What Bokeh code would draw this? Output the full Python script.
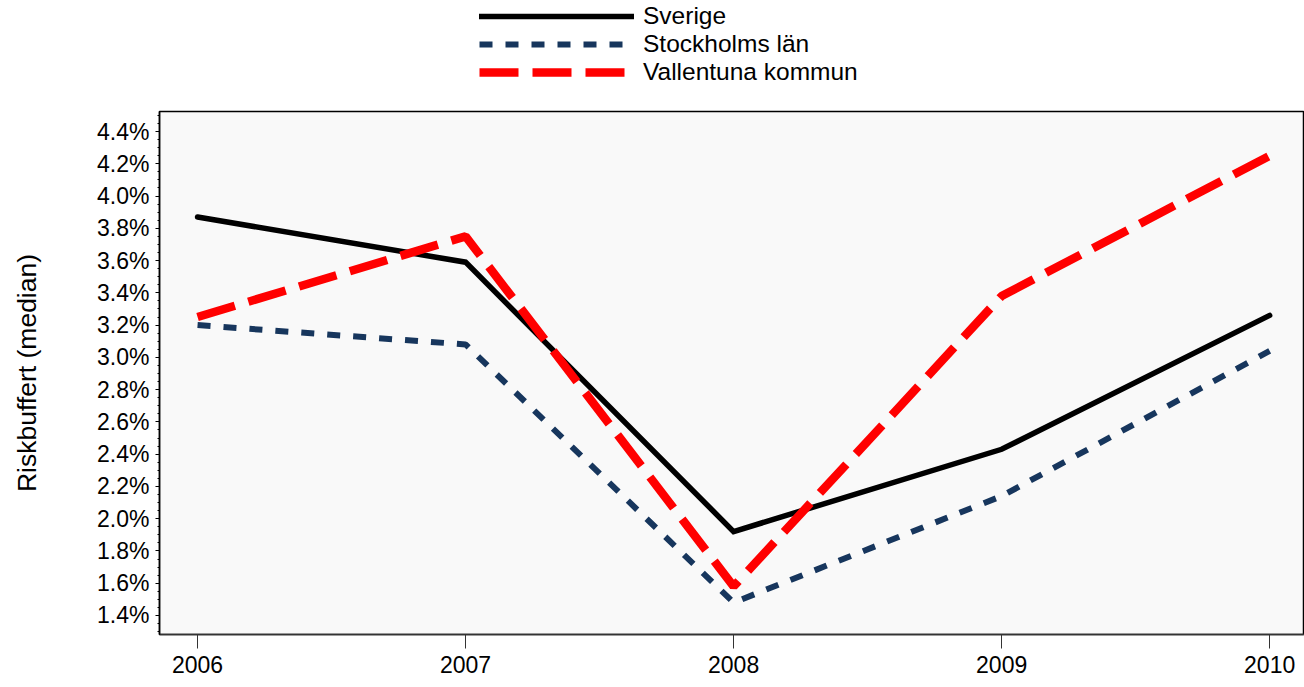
from bokeh.plotting import figure
from bokeh.layouts import column
from bokeh.models import (Range1d, FixedTicker, PrintfTickFormatter, Legend, LegendItem)
from bokeh.embed import file_html
from bokeh.resources import INLINE

years = [2006, 2007, 2008, 2009, 2010]
sverige = [3.87, 3.59, 1.92, 2.43, 3.26]
stockholm = [3.20, 3.08, 1.48, 2.14, 3.04]
vallentuna = [3.25, 3.75, 1.58, 3.38, 4.25]

series_names = ["Sverige", "Stockholms län", "Vallentuna kommun"]
y_ticks = [1.4, 1.6, 1.8, 2.0, 2.2, 2.4, 2.6, 2.8, 3.0, 3.2, 3.4, 3.6, 3.8, 4.0, 4.2, 4.4]
y_minor = [1.3, 1.35, 1.45, 1.5, 1.55, 1.65, 1.7, 1.75, 1.85, 1.9, 1.95, 2.05, 2.1, 2.15,
           2.25, 2.3, 2.35, 2.45, 2.5, 2.55, 2.65, 2.7, 2.75, 2.85, 2.9, 2.95, 3.05, 3.1,
           3.15, 3.25, 3.3, 3.35, 3.45, 3.5, 3.55, 3.65, 3.7, 3.75, 3.85, 3.9, 3.95, 4.05,
           4.1, 4.15, 4.25, 4.3, 4.35, 4.45, 4.5]
y_label = "Riskbuffert (median)"

FONT = "Liberation Sans"

styles = [dict(line_color="black", line_width=5.5, line_cap="round", line_join="miter"),
          dict(line_color="#17365d", line_width=6, line_dash="13 13"),
          dict(line_color="#ff0000", line_width=8.5, line_dash="39 14")]
series = [sverige, stockholm, vallentuna]

# ---------- main chart ----------
p = figure(width=1304, height=592, output_backend="svg", toolbar_location=None,
           x_range=Range1d(2005.858, 2010.13), y_range=Range1d(1.282, 4.524),
           min_border_left=159, min_border_right=0, min_border_top=16, min_border_bottom=53)
p.border_fill_color = "white"
p.outline_line_color = "black"
p.outline_line_width = 1.5
p.grid.visible = False
p.background_fill_color = "#f9f9f9"

for vals, st in zip(series, styles):
    p.line(years, vals, **st)

xa = p.xaxis[0]
xa.ticker = FixedTicker(ticks=years)
xa.axis_line_color = "#333333"
xa.axis_line_width = 1.5
xa.major_tick_line_color = "#333333"
xa.major_tick_out = 14
xa.major_tick_in = 0
xa.minor_tick_line_color = None
xa.major_label_text_font = FONT
xa.major_label_text_font_size = "23px"
xa.major_label_text_color = "black"
xa.major_label_standoff = 7

ya = p.yaxis[0]
ya.ticker = FixedTicker(ticks=y_ticks, minor_ticks=y_minor)
ya.formatter = PrintfTickFormatter(format="%.1f%%")
ya.axis_line_color = "black"
ya.axis_line_width = 1.5
ya.major_tick_line_color = "black"
ya.major_tick_out = 4
ya.major_tick_in = 0
ya.minor_tick_line_color = "black"
ya.minor_tick_out = 2
ya.minor_tick_in = 0
ya.major_label_text_font = FONT
ya.major_label_text_font_size = "23px"
ya.major_label_text_color = "black"
ya.major_label_standoff = 6
ya.axis_label = y_label
ya.axis_label_text_font = FONT
ya.axis_label_text_font_size = "26.5px"
ya.axis_label_text_font_style = "normal"
ya.axis_label_text_color = "black"
ya.axis_label_standoff = 52

# ---------- legend strip (same series, kept out of view so only the legend shows) ----------
lf = figure(width=1304, height=95, output_backend="svg", toolbar_location=None,
            x_range=Range1d(2005.858, 2010.13), y_range=Range1d(100, 101),
            x_axis_type=None, y_axis_type=None,
            min_border_left=0, min_border_right=0, min_border_top=0, min_border_bottom=0)
lf.outline_line_color = None
lf.grid.visible = False
lf.background_fill_color = "white"
lf.border_fill_color = "white"
lrs = [lf.line(years, vals, **st) for vals, st in zip(series, styles)]

legend = Legend(items=[LegendItem(label=n, renderers=[r]) for n, r in zip(series_names, lrs)],
                location=(320, 9), orientation="vertical",
                glyph_width=155, glyph_height=22, spacing=0, padding=0, margin=0,
                label_standoff=9, label_text_font=FONT, label_text_font_size="24.5px",
                label_text_color="black",
                label_height=22, border_line_color=None, background_fill_alpha=0)
lf.add_layout(legend, "center")

layout = column(lf, p, spacing=0)
open("out.html", "w").write(file_html(layout, INLINE))
